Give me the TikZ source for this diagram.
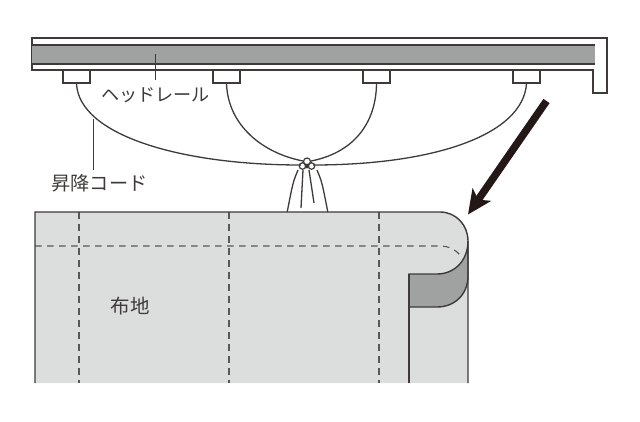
\documentclass[tikz,border=0pt]{standalone}
\usepackage{fontspec}
\newfontfamily\cjk{Noto Sans CJK JP}
\usepackage{tikz}
\usetikzlibrary{arrows.meta}
\definecolor{inkline}{HTML}{3E3A39}
\definecolor{railgray}{HTML}{A0A2A1}
\definecolor{clothgray}{HTML}{DCDDDD}
\definecolor{dashgray}{HTML}{595757}
\definecolor{arrowink}{HTML}{231815}

\begin{document}
\begin{tikzpicture}[x=1pt, y=-1pt,
    line/.style={draw=inkline, line width=1.4pt},
    cord/.style={draw=inkline, line width=1.3pt},
    foldline/.style={draw=dashgray, line width=1.1pt, dash pattern=on 6.5pt off 5.5pt},
    runner/.style={rectangle, draw=inkline, line width=1.3pt, fill=white, minimum width=27pt, minimum height=13pt, inner sep=0pt},
    knotloop/.style={circle, draw=inkline, line width=1.2pt, inner sep=0pt},
    tag/.style={font=\cjk\fontsize{18.1}{20}\selectfont, text=inkline, inner sep=0pt}]
        \useasboundingbox (0,0) rectangle (640,421);
        
        \draw[line, fill=white] (32,38) -- (607,38) -- (607,93) -- (593,93) -- (593,70) -- (32,70) -- cycle;
        \fill[railgray] (32,45) rectangle (595,64);
        \draw[line] (32,45) -- (595,45);
        \draw[line] (32,64) -- (595,64);
        
        \node[runner] (r1) at (76.5,76.5) {};
        \node[runner] (r2) at (226.5,76.5) {};
        \node[runner] (r3) at (376.5,76.5) {};
        \node[runner] (r4) at (526.5,76.5) {};
        
        \coordinate (kl) at (301,165);
        \coordinate (kr) at (313,165);
        \coordinate (kul) at (303,161);
        \coordinate (kur) at (311,161);
        \draw[cord] (r1.south) .. controls (79,135) and (180,165) .. (kl);
        \draw[cord] (r2.south) .. controls (228,125) and (262,153) .. (kul);
        \draw[cord] (r3.south) .. controls (376,125) and (352,153) .. (kur);
        \draw[cord] (r4.south) .. controls (523,135) and (434,165) .. (kr);
        
        \coordinate (tl) at (287,213);
        \coordinate (tr) at (328,213);
        \coordinate (ti1) at (301,208);
        \coordinate (ti2) at (314,203);
        \coordinate (sl) at (298,170);
        \coordinate (sr) at (317,170);
        \coordinate (s1) at (303,170);
        \coordinate (s2) at (309,170);
        \draw[cord] (sl) .. controls (293,182) .. (tl);
        \draw[cord] (sr) .. controls (322,182) .. (tr);
        \draw[cord] (s1) -- (ti1);
        \draw[cord] (s2) -- (ti2);
        
        \node[knotloop, minimum size=6.5pt] (k1) at (302.5,166) {};
        \node[knotloop, minimum size=6.5pt] (k2) at (311.5,166) {};
        \node[knotloop, minimum size=7pt] (k3) at (307,161.5) {};
        \node[knotloop, minimum size=3.5pt, fill=inkline] (k4) at (307,166) {};
        
        \fill[clothgray] (35,383) -- (35,212) -- (440,212) .. controls (456,212) and (468,225) .. (468,241) -- (468,383) -- cycle;
        \draw[foldline] (79,212) -- (79,383);
        \draw[foldline] (229,212) -- (229,383);
        \draw[foldline] (379,212) -- (379,383);
        \draw[foldline] (35,246) -- (440,246) .. controls (449,246) and (456,250) .. (460,255);
        \draw[line, fill=railgray] (409,274) -- (437,274) .. controls (455,274) and (468,260) .. (468,241) -- (468,276) .. controls (468,294) and (455,307) .. (437,307) -- (409,307) -- cycle;
        \draw[line] (35,383) -- (35,212) -- (440,212) .. controls (456,212) and (468,225) .. (468,241) -- (468,383);
        \draw[line] (409,274) -- (409,383);
        
        \node[tag] (railtag) at (155.5,95) {ヘッドレール};
        \node[tag, font=\cjk\fontsize{19.2}{20}\selectfont] (cordtag) at (99.5,183) {昇降コード};
        \node[tag, font=\cjk\fontsize{19.5}{20}\selectfont] (clothtag) at (130,306) {布地};
        \coordinate (railpt) at (155,54);
        \coordinate (railend) at (155,80);
        \coordinate (cordpt) at (93,119);
        \coordinate (cordend) at (93,170);
        \draw[line, line width=1pt] (railpt) -- (railend);
        \draw[line, line width=1pt] (cordpt) -- (cordend);
        
        \coordinate (aa) at (546.5,101);
        \coordinate (ab) at (468,214.5);
        \draw[draw=arrowink, line width=7.5pt, -{Stealth[length=24pt, width=22pt, inset=6pt]}] (aa) -- (ab);
    \end{tikzpicture}
\end{document}
